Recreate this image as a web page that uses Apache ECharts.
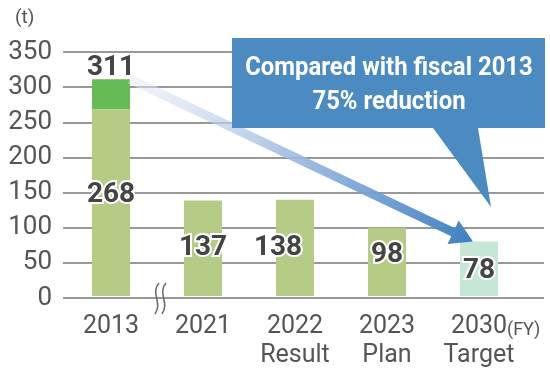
<!DOCTYPE html>
<html><head><meta charset="utf-8">
<script src="https://cdn.jsdelivr.net/npm/echarts@6/dist/echarts.min.js"></script>
<style>html,body{margin:0;padding:0;background:#fff}#c{width:550px;height:370px}</style>
</head><body><div id="c"></div>
<script>
var categories = ['2013', '2021', '2022\nResult', '2023\nPlan', '2030\nTarget'];
var baseValues = [268, 137, 138, 98, 78];
var topValues = [43, null, null, null, null];
var totalValues = [311, 137, 138, 98, 78];
var yTicks = [0, 50, 100, 150, 200, 250, 300, 350];

var FONT = 'Roboto, "Liberation Sans", sans-serif';
var lightGreen = '#b5cc86', darkGreen = '#67bb57', mint = '#c6e6d6';
var labelOffsets = [[0, -8], [0, 0], [-17, 0], [0, -7], [0, 2]];

var labelStyle = {
  show: true, position: 'inside', fontFamily: FONT, fontWeight: 'bold',
  fontSize: 28, color: '#444', textBorderColor: '#fff', textBorderWidth: 4
};

var baseData = baseValues.map(function (v, i) {
  return {
    value: v,
    itemStyle: { color: i === 4 ? mint : lightGreen },
    label: Object.assign({}, labelStyle, { offset: labelOffsets[i] })
  };
});
var topData = topValues.map(function (v) {
  return v == null ? '-' : { value: v };
});

var chart = echarts.init(document.getElementById('c'), null, { renderer: 'canvas' });
chart.setOption({
  animation: false,
  grid: [
    { left: 63, right: 6, top: 52, bottom: 72 },
    { left: 65, right: 25, top: 52, bottom: 72 }
  ],
  xAxis: [
    { gridIndex: 0, type: 'value', show: false, min: 0, max: 1 },
    {
      gridIndex: 1, type: 'category', data: categories,
      axisLine: { show: false }, axisTick: { show: false },
      axisLabel: { interval: 0, fontFamily: FONT, fontSize: 25, color: '#555', margin: 16, lineHeight: 29 }
    }
  ],
  yAxis: [
    {
      gridIndex: 0, type: 'value', min: yTicks[0], max: yTicks[yTicks.length - 1], interval: 50,
      axisLine: { show: false }, axisTick: { show: false },
      axisLabel: { fontFamily: FONT, fontSize: 26, color: '#555', margin: 11 },
      splitLine: { lineStyle: { color: '#777', width: 1.5 } }
    },
    { gridIndex: 1, type: 'value', min: 0, max: 350, show: false }
  ],
  series: [
    {
      type: 'bar', xAxisIndex: 1, yAxisIndex: 1, stack: 's', barWidth: 38,
      data: baseData
    },
    {
      type: 'bar', xAxisIndex: 1, yAxisIndex: 1, stack: 's', barWidth: 38,
      itemStyle: { color: darkGreen },
      label: Object.assign({}, labelStyle, {
        position: 'top', distance: -3,
        formatter: function (p) { return totalValues[p.dataIndex]; }
      }),
      data: topData
    }
  ]
});

var start = chart.convertToPixel({ xAxisIndex: 1, yAxisIndex: 1 }, [0, totalValues[0]]);
var end = chart.convertToPixel({ xAxisIndex: 1, yAxisIndex: 1 }, [4, totalValues[4]]);
var sx = start[0] + 19, sy = start[1];
var tx = end[0] - 6, ty = end[1];
var dx = tx - sx, dy = ty - sy, L = Math.sqrt(dx * dx + dy * dy);
var ux = dx / L, uy = dy / L, nx = -uy, ny = ux;
var headLen = 22, headW = 13;
var bx = tx - headLen * ux, by = ty - headLen * uy;
var shaftW = 4.5;
var grad = new echarts.graphic.LinearGradient(sx, sy, tx, ty, [
  { offset: 0, color: 'rgba(230,236,247,0.5)' },
  { offset: 0.5, color: 'rgba(150,182,222,0.9)' },
  { offset: 1, color: '#3f80c1' }
], true);

var zero = chart.convertToPixel({ yAxisIndex: 0 }, 0);

chart.setOption({
  graphic: [
    { type: 'text', x: 15, y: 18, style: { text: '(t)', font: '19px Roboto, sans-serif', fill: '#555', verticalAlign: 'middle' } },
    { type: 'text', x: 507, y: 330, style: { text: '(FY)', font: '18px Roboto, sans-serif', fill: '#555', verticalAlign: 'middle' } },
    {
      type: 'bezierCurve', shape: { x1: 159, y1: zero - 15, cpx1: 150, cpy1: zero - 5, cpx2: 163, cpy2: zero + 5, x2: 155, y2: zero + 16 },
      style: { stroke: '#666', lineWidth: 1.5, fill: null }, z: 10
    },
    {
      type: 'bezierCurve', shape: { x1: 166, y1: zero - 15, cpx1: 157, cpy1: zero - 5, cpx2: 170, cpy2: zero + 5, x2: 162, y2: zero + 16 },
      style: { stroke: '#666', lineWidth: 1.5, fill: null }, z: 10
    },
    {
      type: 'polygon', z: 5,
      shape: { points: [
        [sx + nx * shaftW, sy + ny * shaftW], [bx + nx * shaftW, by + ny * shaftW],
        [bx + nx * headW, by + ny * headW], [tx, ty], [bx - nx * headW, by - ny * headW],
        [bx - nx * shaftW, by - ny * shaftW], [sx - nx * shaftW, sy - ny * shaftW]
      ] },
      style: { fill: grad }
    },
    {
      type: 'polygon', z: 20,
      shape: { points: [[232, 38], [545, 38], [545, 128], [478, 128], [491, 207], [433, 128], [232, 128]] },
      style: { fill: '#4b8bc2' }
    },
    {
      type: 'text', z: 21, x: 389, y: 68, scaleX: 0.92,
      style: { text: 'Compared with fiscal 2013', font: 'bold 26px Roboto, sans-serif', fill: '#fff', align: 'center', verticalAlign: 'middle' }
    },
    {
      type: 'text', z: 21, x: 389, y: 102, scaleX: 0.92,
      style: { text: '75% reduction', font: 'bold 26px Roboto, sans-serif', fill: '#fff', align: 'center', verticalAlign: 'middle' }
    }
  ]
});
</script></body></html>
